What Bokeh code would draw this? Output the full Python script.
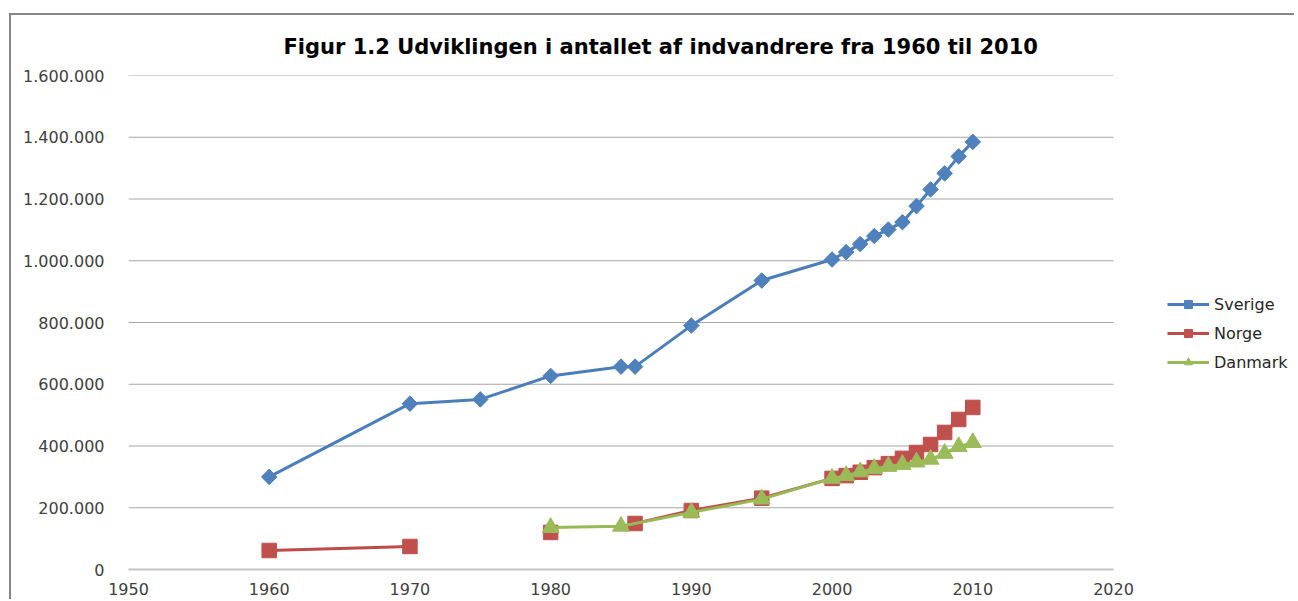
import math
from bokeh.plotting import figure
from bokeh.models import (Range1d, FixedTicker, CustomJSTickFormatter, Legend, LegendItem)
from bokeh.embed import file_html
from bokeh.resources import INLINE

# ---- data ----
years = [1960, 1970, 1975, 1980, 1985, 1986, 1990, 1995,
         2000, 2001, 2002, 2003, 2004, 2005, 2006, 2007, 2008, 2009, 2010]
sverige = [300000, 537000, 551000, 627000, 657000, 657000, 790000, 936000,
           1004000, 1028000, 1054000, 1080000, 1101000, 1125000, 1177000, 1231000, 1283000, 1338000, 1385000]
nan = float("nan")
norge = [61500, 74500, nan, 120000, nan, 149000, 191000, 231000,
         295000, 304000, 315000, 330000, 343000, 360000, 379000, 405000, 444000, 486000, 525000]
danmark_years = [1980, 1985, 1990, 1995, 2000, 2001, 2002, 2003, 2004, 2005, 2006, 2007, 2008, 2009, 2010]
danmark = [136000, 140000, 185000, 228000, 295000, 304000, 316000, 327000, 334000, 340000, 348000, 357000, 376000, 398000, 411000]

series_names = ["Sverige", "Norge", "Danmark"]
x_ticks = [1950, 1960, 1970, 1980, 1990, 2000, 2010, 2020]
y_ticks = [0, 200000, 400000, 600000, 800000, 1000000, 1200000, 1400000, 1600000]
title_text = "Figur 1.2 Udviklingen i antallet af indvandrere fra 1960 til 2010"

x_min, x_max = x_ticks[0], x_ticks[-1]

# norge points without gaps for markers
norge_x = [y for y, v in zip(years, norge) if not math.isnan(v)]
norge_y = [v for v in norge if not math.isnan(v)]

blue_line, blue_fill = "#4A7EBB", "#4F81BD"
red_line, red_fill = "#BE4B48", "#C0504D"
green_line, green_fill = "#98B954", "#9BBB59"

# layout: the axis area (1950-2020) spans 985 px; the frame continues to the right
# so that the legend can sit inside it, beside the plotted area.
W, H = 1285, 586
left, right_pad, top, bottom = 117, 5, 60, 32
axis_px = 985
px_per_year = axis_px / (x_max - x_min)
x_end = x_min + (W - left - right_pad) / px_per_year

p = figure(width=W, height=H, output_backend="svg", toolbar_location=None,
           x_range=Range1d(x_min, x_end), y_range=Range1d(0, 1600000),
           min_border_left=left, min_border_right=right_pad,
           min_border_top=top, min_border_bottom=bottom)

p.title.text = title_text
p.title.text_font = "DejaVu Sans"
p.title.text_font_style = "bold"
p.title.text_font_size = "21px"
p.title.text_color = "#000000"
p.title.align = "left"
p.title.offset = 155
p.title.standoff = 34

p.styles = {"border-top": "2px solid #878787", "border-left": "2px solid #878787",
            "margin-top": "13px", "margin-left": "9px"}

p.outline_line_color = None
p.background_fill_color = "white"
p.border_fill_color = "white"

# axes
p.xaxis.ticker = FixedTicker(ticks=x_ticks)
p.xaxis.bounds = (x_min, x_max)
p.yaxis.ticker = FixedTicker(ticks=y_ticks)
p.yaxis.formatter = CustomJSTickFormatter(code="""
    return tick.toFixed(0).replace(/\\B(?=(\\d{3})+(?!\\d))/g, ".");
""")
for ax in (p.xaxis, p.yaxis):
    ax.major_tick_line_color = None
    ax.minor_tick_line_color = None
    ax.major_label_text_font = "DejaVu Sans"
    ax.major_label_text_font_size = "16px"
    ax.major_label_text_color = "#404040"
p.yaxis.axis_line_color = None
p.yaxis.major_label_standoff = 18
p.xaxis.axis_line_color = "#c4c4c4"
p.xaxis.axis_line_width = 2
p.xaxis.major_label_standoff = 7

p.xgrid.grid_line_color = None
p.ygrid.grid_line_color = None
# horizontal gridlines limited to the axis span 1950-2020
grid_y = y_ticks[1:]
p.segment(x0=[x_min] * len(grid_y), x1=[x_max] * len(grid_y), y0=grid_y, y1=grid_y,
          line_color="#a6a6a6", line_width=1)

# series
l1 = p.line(years, sverige, line_color=blue_line, line_width=3)
m1 = p.scatter(years, sverige, marker="square", angle=math.pi / 4, size=11,
               fill_color=blue_fill, line_color=blue_fill)
l2 = p.line(years, norge, line_color=red_line, line_width=3)
m2 = p.scatter(norge_x, norge_y, marker="square", size=14.5,
               fill_color=red_fill, line_color=red_fill)
l3 = p.line(danmark_years, danmark, line_color=green_line, line_width=3)
m3 = p.scatter(danmark_years, danmark, marker="triangle", size=17,
               fill_color=green_fill, line_color=green_fill)

legend = Legend(items=[
    LegendItem(label=series_names[0], renderers=[l1, m1]),
    LegendItem(label=series_names[1], renderers=[l2, m2]),
    LegendItem(label=series_names[2], renderers=[l3, m3]),
], location=(1039, 197))
legend.label_text_font = "DejaVu Sans"
legend.label_text_font_size = "16px"
legend.label_text_color = "#262626"
legend.glyph_width = 42
legend.glyph_height = 20
legend.label_height = 20
legend.spacing = 9
legend.padding = 0
legend.margin = 0
legend.label_standoff = 5
legend.border_line_color = None
legend.background_fill_alpha = 0
p.add_layout(legend)

open("out.html", "w").write(file_html(p, INLINE))
